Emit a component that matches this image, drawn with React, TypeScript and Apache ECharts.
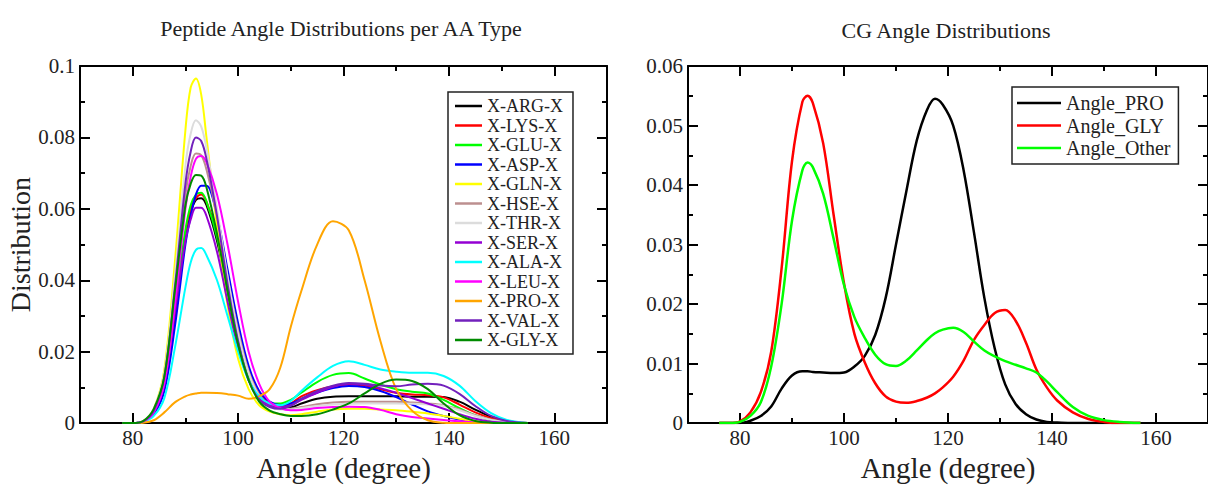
import React, { useEffect, useRef } from "react";
import * as echarts from "echarts";

// ---------- Data ----------
const X_PEPTIDE = [78, 80, 82, 84, 86, 88, 90, 91, 92, 93, 94, 96, 98, 100, 102, 104, 106, 108, 110, 112, 115, 118, 121, 124, 127, 130, 133, 136, 139, 142, 145, 148, 151, 155];

const ARG = [0, 0, 0.0005, 0.003, 0.010, 0.030, 0.052, 0.059, 0.0625, 0.063, 0.061, 0.051, 0.037, 0.024, 0.014, 0.008, 0.0055, 0.0045, 0.0045, 0.0055, 0.0068, 0.0074, 0.0075, 0.0075, 0.0075, 0.0075, 0.0074, 0.0074, 0.0073, 0.006, 0.0038, 0.0018, 0.0006, 0];
const LYS = [0, 0, 0.0005, 0.003, 0.010, 0.031, 0.053, 0.060, 0.063, 0.064, 0.062, 0.053, 0.039, 0.026, 0.015, 0.0085, 0.0055, 0.0048, 0.0055, 0.0075, 0.0092, 0.0103, 0.0108, 0.0105, 0.0095, 0.0085, 0.008, 0.0078, 0.0072, 0.0052, 0.003, 0.0014, 0.0004, 0];
const GLU = [0, 0, 0.0005, 0.003, 0.011, 0.032, 0.054, 0.061, 0.064, 0.0645, 0.062, 0.052, 0.037, 0.023, 0.013, 0.0075, 0.0055, 0.0055, 0.0065, 0.0085, 0.0115, 0.0135, 0.014, 0.0125, 0.0108, 0.0095, 0.0088, 0.0083, 0.0065, 0.0042, 0.0022, 0.0008, 0.0002, 0];
const ASP = [0, 0, 0.0004, 0.0025, 0.009, 0.027, 0.050, 0.058, 0.064, 0.0665, 0.0665, 0.058, 0.043, 0.028, 0.016, 0.009, 0.006, 0.005, 0.0055, 0.0068, 0.0085, 0.0098, 0.0104, 0.0101, 0.009, 0.0073, 0.0052, 0.0033, 0.002, 0.001, 0.0004, 0.0001, 0, 0];
const GLN = [0, 0, 0.0006, 0.004, 0.015, 0.045, 0.082, 0.094, 0.0965, 0.092, 0.080, 0.055, 0.033, 0.018, 0.0095, 0.005, 0.0032, 0.0025, 0.0022, 0.0025, 0.0032, 0.0038, 0.004, 0.004, 0.0038, 0.0036, 0.0032, 0.0027, 0.002, 0.0012, 0.0005, 0.0002, 0, 0];
const HSE = [0, 0, 0.0005, 0.0035, 0.012, 0.036, 0.064, 0.072, 0.0755, 0.075, 0.071, 0.058, 0.041, 0.026, 0.0145, 0.008, 0.005, 0.004, 0.004, 0.0045, 0.0053, 0.0058, 0.006, 0.006, 0.006, 0.006, 0.0058, 0.0055, 0.005, 0.0038, 0.0022, 0.001, 0.0003, 0];
const THR = [0, 0, 0.0006, 0.004, 0.014, 0.041, 0.072, 0.081, 0.0848, 0.083, 0.077, 0.060, 0.041, 0.025, 0.014, 0.0075, 0.0048, 0.0038, 0.0038, 0.0042, 0.0048, 0.0052, 0.0054, 0.0055, 0.0055, 0.0055, 0.0054, 0.0052, 0.0048, 0.0036, 0.002, 0.0009, 0.0003, 0];
const SER = [0, 0, 0.0005, 0.003, 0.011, 0.031, 0.051, 0.057, 0.0603, 0.0603, 0.058, 0.048, 0.034, 0.021, 0.012, 0.007, 0.005, 0.0045, 0.005, 0.0065, 0.0085, 0.0102, 0.011, 0.0108, 0.0098, 0.0085, 0.007, 0.0055, 0.004, 0.0025, 0.0012, 0.0004, 0.0001, 0];
const ALA = [0, 0, 0.0003, 0.002, 0.007, 0.021, 0.038, 0.045, 0.0485, 0.049, 0.047, 0.040, 0.030, 0.020, 0.012, 0.0075, 0.0055, 0.005, 0.0062, 0.009, 0.0128, 0.016, 0.0173, 0.0163, 0.015, 0.0144, 0.0141, 0.0141, 0.0132, 0.0105, 0.0062, 0.0028, 0.0009, 0];
const LEU = [0, 0, 0.0004, 0.003, 0.011, 0.033, 0.060, 0.069, 0.074, 0.0748, 0.073, 0.064, 0.050, 0.034, 0.020, 0.011, 0.006, 0.0042, 0.0036, 0.0037, 0.0042, 0.0045, 0.0046, 0.0045, 0.0037, 0.0025, 0.0017, 0.0013, 0.0009, 0.0005, 0.0002, 0, 0, 0];
const PRO = [0, 0, 0.0001, 0.0008, 0.003, 0.0058, 0.0075, 0.008, 0.0083, 0.0085, 0.0085, 0.0084, 0.0081, 0.0077, 0.0068, 0.0075, 0.0095, 0.0155, 0.027, 0.037, 0.050, 0.0565, 0.054, 0.040, 0.023, 0.0095, 0.0035, 0.0008, 0.0001, 0, 0, 0, 0, 0];
const VAL = [0, 0, 0.0005, 0.0035, 0.013, 0.038, 0.067, 0.076, 0.080, 0.079, 0.074, 0.058, 0.039, 0.023, 0.012, 0.0065, 0.0045, 0.004, 0.0048, 0.0068, 0.009, 0.0105, 0.0112, 0.011, 0.0105, 0.0103, 0.0108, 0.011, 0.0105, 0.0082, 0.0048, 0.002, 0.0006, 0];
const GLY = [0, 0, 0.0006, 0.004, 0.013, 0.037, 0.061, 0.067, 0.0695, 0.0693, 0.066, 0.053, 0.037, 0.022, 0.012, 0.006, 0.0035, 0.0025, 0.002, 0.002, 0.0025, 0.0038, 0.0055, 0.0083, 0.011, 0.0122, 0.0118, 0.0095, 0.0055, 0.0022, 0.0006, 0.0001, 0, 0];

const PEPTIDE_NAMES = ["X-ARG-X", "X-LYS-X", "X-GLU-X", "X-ASP-X", "X-GLN-X", "X-HSE-X", "X-THR-X", "X-SER-X", "X-ALA-X", "X-LEU-X", "X-PRO-X", "X-VAL-X", "X-GLY-X"];
const PEPTIDE_VALUES = [ARG, LYS, GLU, ASP, GLN, HSE, THR, SER, ALA, LEU, PRO, VAL, GLY];
const PEPTIDE_COLORS = ["#000000", "#ff0000", "#00ff00", "#0000ff", "#ffff00", "#bc8f8f", "#dcdcdc", "#9400d3", "#00ffff", "#ff00ff", "#ffa500", "#7221bc", "#008b00"];

const X_CG = [76, 78, 80, 82, 84, 86, 88, 90, 92, 93, 94, 96, 98, 100, 102, 104, 106, 108, 110, 112, 114, 116, 117.5, 119, 121, 123, 125, 127, 129, 131, 133, 135, 137, 139, 141, 144, 147, 150, 153, 157];
const ANGLE_PRO = [0, 0, 0, 0.0004, 0.0012, 0.0028, 0.0058, 0.008, 0.0087, 0.0087, 0.0086, 0.0085, 0.0084, 0.0085, 0.0095, 0.0113, 0.0148, 0.021, 0.030, 0.039, 0.0475, 0.0527, 0.0545, 0.0535, 0.050, 0.0425, 0.032, 0.021, 0.0125, 0.0065, 0.0032, 0.0015, 0.0006, 0.0002, 0.0001, 0, 0, 0, 0, 0];
const ANGLE_GLY = [0, 0, 0.0003, 0.0018, 0.0052, 0.012, 0.026, 0.044, 0.054, 0.055, 0.0538, 0.047, 0.035, 0.0235, 0.015, 0.0102, 0.0067, 0.0045, 0.0036, 0.0034, 0.0037, 0.0043, 0.005, 0.006, 0.0078, 0.0105, 0.014, 0.0165, 0.0185, 0.019, 0.0172, 0.0135, 0.009, 0.006, 0.0038, 0.0018, 0.0007, 0.0002, 0, 0];
const ANGLE_OTHER = [0, 0, 0.0002, 0.0012, 0.0035, 0.0095, 0.020, 0.034, 0.0425, 0.0438, 0.043, 0.0385, 0.031, 0.0232, 0.0178, 0.0143, 0.0115, 0.0099, 0.0096, 0.0105, 0.0122, 0.014, 0.0151, 0.0157, 0.016, 0.0153, 0.0137, 0.0122, 0.0112, 0.0104, 0.0098, 0.0092, 0.0085, 0.007, 0.0052, 0.0027, 0.0012, 0.0005, 0.0002, 0];

const CG_NAMES = ["Angle_PRO", "Angle_GLY", "Angle_Other"];
const CG_VALUES = [ANGLE_PRO, ANGLE_GLY, ANGLE_OTHER];
const CG_COLORS = ["#000000", "#ff0000", "#00ff00"];

const X_MAJOR_TICKS = [80, 100, 120, 140, 160];
const X_MINOR_TICKS = [90, 110, 130, 150];

const TITLES = ["Peptide Angle Distributions per AA Type", "CG Angle Distributions"];
const X_NAME = "Angle (degree)";
const Y_NAME = "Distribution";

// ---------- Chart ----------
const FONT = "Liberation Serif";
const TEXT = "#222";

const tickFmt = (v: number) => `{t|${+Number(v).toFixed(4)}}`;
const tickRich = { t: { fontFamily: FONT, fontSize: 21, color: TEXT } };

function makeXAxes(g: number) {
  const base = {
    type: "value",
    gridIndex: g,
    min: 70,
    max: 170,
    splitLine: { show: false },
  };
  const line = { show: true, onZero: false, lineStyle: { color: "#000", width: 2 } };
  const noLine = { show: false, onZero: false };
  return [
    {
      ...base,
      position: "bottom",
      axisLine: line,
      axisTick: { show: true, inside: true, length: 10, customValues: X_MAJOR_TICKS, lineStyle: { color: "#000", width: 2 } },
      axisLabel: { show: true, customValues: X_MAJOR_TICKS, fontSize: 21, color: TEXT, fontFamily: FONT, margin: 4, formatter: tickFmt, rich: tickRich },
      name: `{n|${X_NAME}}`,
      nameLocation: "middle",
      nameGap: 16,
      nameTextStyle: { fontSize: 29, color: TEXT, fontFamily: FONT, rich: { n: { fontSize: 29, fontFamily: FONT, color: TEXT } } },
    },
    {
      ...base,
      position: "bottom",
      axisLine: noLine,
      axisTick: { show: true, inside: true, length: 5, customValues: X_MINOR_TICKS, lineStyle: { color: "#000", width: 2 } },
      axisLabel: { show: false },
    },
    {
      ...base,
      position: "top",
      axisLine: line,
      axisTick: { show: true, inside: true, length: 10, customValues: X_MAJOR_TICKS, lineStyle: { color: "#000", width: 2 } },
      axisLabel: { show: false },
    },
    {
      ...base,
      position: "top",
      axisLine: noLine,
      axisTick: { show: true, inside: true, length: 5, customValues: X_MINOR_TICKS, lineStyle: { color: "#000", width: 2 } },
      axisLabel: { show: false },
    },
  ];
}

function makeYAxes(g: number, max: number, interval: number, withName: boolean) {
  const base = {
    type: "value",
    gridIndex: g,
    min: 0,
    max,
    interval,
    splitLine: { show: false },
    minorSplitLine: { show: false },
    axisLine: { show: true, onZero: false, lineStyle: { color: "#000", width: 2 } },
    axisTick: { show: true, inside: true, length: 10, lineStyle: { color: "#000", width: 2 } },
    minorTick: { show: true, splitNumber: 2, length: 5, lineStyle: { color: "#000", width: 2 } },
  };
  const left: any = {
    ...base,
    position: "left",
    axisLabel: { show: true, fontSize: 21, color: TEXT, fontFamily: FONT, margin: 5, formatter: tickFmt, rich: tickRich },
  };
  if (withName) {
    left.name = `{n|${Y_NAME}}`;
    left.nameLocation = "middle";
    left.nameGap = 46;
    left.nameTextStyle = { fontSize: 28, color: TEXT, fontFamily: FONT, rich: { n: { fontSize: 28, fontFamily: FONT, color: TEXT } } };
  }
  return [
    left,
    { ...base, position: "right", axisLabel: { show: false } },
  ];
}

export default function App() {
  const ref = useRef<HTMLDivElement>(null);

  useEffect(() => {
    if (!ref.current) return;
    const chart = echarts.init(ref.current, undefined, { renderer: "svg" });

    const series: any[] = [];
    PEPTIDE_NAMES.forEach((name, i) => {
      series.push({
        name,
        type: "line",
        xAxisIndex: 0,
        yAxisIndex: 0,
        symbol: "none",
        smooth: 0.35,
        lineStyle: { color: PEPTIDE_COLORS[i], width: 2 },
        itemStyle: { color: PEPTIDE_COLORS[i] },
        data: X_PEPTIDE.map((x, k) => [x, PEPTIDE_VALUES[i][k]]),
      });
    });
    CG_NAMES.forEach((name, i) => {
      series.push({
        name,
        type: "line",
        xAxisIndex: 4,
        yAxisIndex: 2,
        symbol: "none",
        smooth: 0.35,
        lineStyle: { color: CG_COLORS[i], width: 2.5 },
        itemStyle: { color: CG_COLORS[i] },
        data: X_CG.map((x, k) => [x, CG_VALUES[i][k]]),
      });
    });

    const option: any = {
      animation: false,
      backgroundColor: "#ffffff",
      textStyle: { fontFamily: FONT },
      grid: [
        { left: 80, top: 66, width: 527, height: 369, containLabel: false },
        { left: 688, top: 66, width: 522, height: 370, containLabel: false },
      ],
      xAxis: [...makeXAxes(0), ...makeXAxes(1)],
      yAxis: [...makeYAxes(0, 0.1, 0.02, true), ...makeYAxes(1, 0.06, 0.01, false)],
      legend: [
        {
          data: PEPTIDE_NAMES,
          orient: "vertical",
          left: 448,
          top: 92,
          padding: [5, 10, 5, 7],
          icon: "rect",
          itemWidth: 27,
          itemHeight: 2.5,
          itemGap: 1.5,
          borderColor: "#222",
          borderWidth: 1.5,
          selectedMode: false,
          textStyle: { fontSize: 18, lineHeight: 16, color: TEXT, fontFamily: FONT },
        },
        {
          data: CG_NAMES,
          orient: "vertical",
          left: 1012,
          top: 87,
          padding: [6, 8, 6, 5],
          icon: "rect",
          itemWidth: 44,
          itemHeight: 2.5,
          itemGap: 2.5,
          borderColor: "#222",
          borderWidth: 1.5,
          selectedMode: false,
          textStyle: { fontSize: 20, lineHeight: 20, color: TEXT, fontFamily: FONT },
        },
      ],
      graphic: [
        {
          type: "text",
          x: 341,
          y: 28,
          style: { text: TITLES[0], font: `22px "${FONT}"`, fill: TEXT, textAlign: "center", textVerticalAlign: "middle" },
        },
        {
          type: "text",
          x: 946,
          y: 30,
          style: { text: TITLES[1], font: `22px "${FONT}"`, fill: TEXT, textAlign: "center", textVerticalAlign: "middle" },
        },
      ],
      series,
    };

    chart.setOption(option);
    return () => chart.dispose();
  }, []);

  return (
    <div
      ref={ref}
      style={{ position: "absolute", left: 0, top: 0, width: 1208, height: 487, background: "#fff" }}
    />
  );
}
